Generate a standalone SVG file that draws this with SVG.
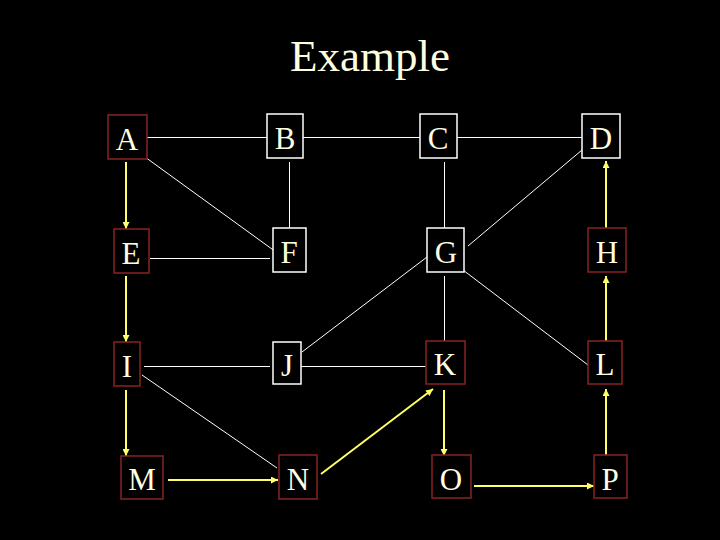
<svg xmlns="http://www.w3.org/2000/svg" width="720" height="540" viewBox="0 0 720 540">
<defs>
<marker id="ah" viewBox="0 0 10 10" refX="10" refY="5" markerWidth="3.5" markerHeight="3.5" orient="auto" markerUnits="strokeWidth">
<path d="M0,0 L10,5 L0,10 z" fill="#ffff66"/>
</marker>
</defs>
<style>
.nr{fill:#000;stroke:#8b2222;stroke-width:1.5}
.nw{fill:#000;stroke:#ffffff;stroke-width:1.5}
.t{font-family:"Liberation Serif","Times New Roman",serif;font-size:31px;fill:#ffffe0;text-anchor:middle}
.w{stroke:#ffffff;stroke-width:1;fill:none}
.y{stroke:#ffff66;stroke-width:2;fill:none;marker-end:url(#ah)}
</style>
<rect width="720" height="540" fill="#000"/>
<text x="370" y="71" font-family="Liberation Serif, Times New Roman, serif" font-size="45" fill="#ffffe0" text-anchor="middle">Example</text>
<g id="connectors">
<line class="w" x1="147" y1="137.5" x2="267" y2="137.5"/>
<line class="w" x1="303" y1="137.5" x2="420" y2="137.5"/>
<line class="w" x1="457" y1="137.5" x2="582" y2="137.5"/>
<line class="w" x1="145" y1="157" x2="276" y2="252"/>
<line class="w" x1="289.5" y1="162" x2="289.5" y2="228"/>
<line class="w" x1="444.5" y1="162" x2="444.5" y2="228"/>
<line class="w" x1="582" y1="150" x2="468" y2="246"/>
<line class="w" x1="150" y1="258.5" x2="270" y2="258.5"/>
<line class="w" x1="302" y1="352" x2="427" y2="257"/>
<line class="w" x1="444.5" y1="276" x2="444.5" y2="341"/>
<line class="w" x1="463" y1="270" x2="588" y2="365"/>
<line class="w" x1="144" y1="366.5" x2="270" y2="366.5"/>
<line class="w" x1="301" y1="366.5" x2="426" y2="366.5"/>
<line class="w" x1="142" y1="375" x2="277" y2="468"/>
<line class="y" x1="126" y1="162" x2="126" y2="229"/>
<line class="y" x1="126" y1="276" x2="126" y2="342"/>
<line class="y" x1="126" y1="390" x2="126" y2="456"/>
<line class="y" x1="168" y1="480" x2="278" y2="480"/>
<line class="y" x1="321" y1="474" x2="433" y2="389"/>
<line class="y" x1="444" y1="390" x2="444" y2="456"/>
<line class="y" x1="474" y1="486" x2="594" y2="486"/>
<line class="y" x1="606" y1="455" x2="606" y2="389"/>
<line class="y" x1="606" y1="341" x2="606" y2="276"/>
<line class="y" x1="606" y1="228" x2="606" y2="161"/>
</g>
<g id="A"><rect class="nr" x="108" y="115" width="39" height="44"/><text class="t" x="127" y="150">A</text></g>
<g id="B"><rect class="nw" x="267" y="114" width="36" height="44"/><text class="t" x="285" y="149">B</text></g>
<g id="C"><rect class="nw" x="420" y="114" width="37" height="44"/><text class="t" x="438" y="149">C</text></g>
<g id="D"><rect class="nw" x="582" y="114" width="38" height="44"/><text class="t" x="601" y="149">D</text></g>
<g id="E"><rect class="nr" x="114" y="229" width="35" height="44"/><text class="t" x="131" y="264">E</text></g>
<g id="F"><rect class="nw" x="273" y="228" width="33" height="44"/><text class="t" x="289" y="263">F</text></g>
<g id="G"><rect class="nw" x="427" y="228" width="37" height="44"/><text class="t" x="446" y="263">G</text></g>
<g id="H"><rect class="nr" x="588" y="228" width="38" height="44"/><text class="t" x="607" y="263">H</text></g>
<g id="I"><rect class="nr" x="114" y="342" width="26" height="44"/><text class="t" x="127" y="377">I</text></g>
<g id="J"><rect class="nw" x="273" y="342" width="28" height="42"/><text class="t" x="287" y="376">J</text></g>
<g id="K"><rect class="nr" x="426" y="341" width="39" height="43"/><text class="t" x="445" y="375">K</text></g>
<g id="L"><rect class="nr" x="588" y="341" width="34" height="43"/><text class="t" x="605" y="375">L</text></g>
<g id="M"><rect class="nr" x="121" y="456" width="42" height="43"/><text class="t" x="142" y="490">M</text></g>
<g id="N"><rect class="nr" x="279" y="455" width="38" height="44"/><text class="t" x="298" y="490">N</text></g>
<g id="O"><rect class="nr" x="432" y="455" width="39" height="43"/><text class="t" x="451" y="490">O</text></g>
<g id="P"><rect class="nr" x="594" y="455" width="33" height="43"/><text class="t" x="610" y="490">P</text></g>
</svg>
